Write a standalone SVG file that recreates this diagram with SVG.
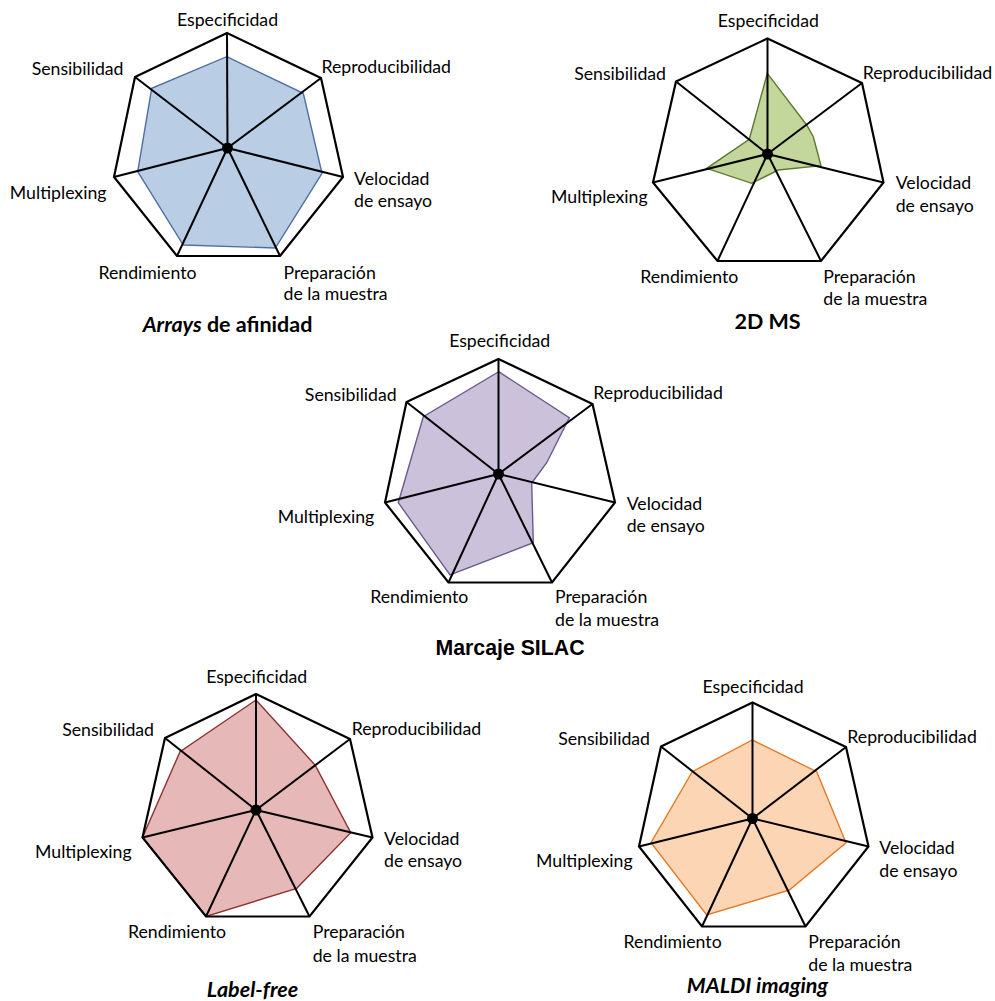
<svg xmlns="http://www.w3.org/2000/svg" width="995" height="1001" viewBox="0 0 995 1001">
<style>
.frame{fill:none;stroke:#000;stroke-width:2.2;stroke-linejoin:miter}
.spoke{stroke:#000;stroke-width:2}
.hub{fill:#000}
.lbl{font-family:Lato,"Open Sans",sans-serif;font-size:17.7px;fill:#000}
.ttl{font-family:Lato,"Open Sans",sans-serif;font-size:21.5px;font-weight:bold;fill:#000}
.ttl2{font-family:"Liberation Sans",Arial,sans-serif;font-size:21.3px;font-weight:bold;fill:#000}
.e{text-anchor:end}
.m{text-anchor:middle}
.d1{fill:#b9cde5;stroke:#4f6ea3;stroke-width:1.4}
.d2{fill:#c3d69b;stroke:#5d7a30;stroke-width:1.4}
.d3{fill:#ccc1da;stroke:#6b5b8e;stroke-width:1.4}
.d4{fill:#e6b9b8;stroke:#8c3331;stroke-width:1.4}
.d5{fill:#fcd5b5;stroke:#e37a24;stroke-width:1.4}
</style>
<g id="chart-arrays">
<polygon class="d1" points="226.7,56.7 303.3,93.3 322,173.3 275.3,248 183.3,245 137.7,171.7 151.7,88.3"/>
<g class="spokes">
<line class="spoke" x1="227.5" y1="148" x2="227" y2="33"/>
<line class="spoke" x1="227.5" y1="148" x2="321" y2="78"/>
<line class="spoke" x1="227.5" y1="148" x2="343" y2="177"/>
<line class="spoke" x1="227.5" y1="148" x2="280" y2="256"/>
<line class="spoke" x1="227.5" y1="148" x2="177" y2="256"/>
<line class="spoke" x1="227.5" y1="148" x2="114" y2="177"/>
<line class="spoke" x1="227.5" y1="148" x2="135" y2="77"/>
</g>
<polygon class="frame" points="227,33 321,78 343,177 280,256 177,256 114,177 135,77"/>
<circle class="hub" cx="227.5" cy="148" r="5.5"/>
<text class="lbl m" x="227.5" y="26">Especificidad</text>
<text class="lbl e" x="123.5" y="75">Sensibilidad</text>
<text class="lbl" x="321.5" y="73">Reproducibilidad</text>
<text class="lbl" x="354" y="185">Velocidad</text>
<text class="lbl" x="354" y="207">de ensayo</text>
<text class="lbl e" x="106.5" y="198.5">Multiplexing</text>
<text class="lbl e" x="196.5" y="278.5">Rendimiento</text>
<text class="lbl" x="283.5" y="278.5">Preparación</text>
<text class="lbl" x="283.5" y="300">de la muestra</text>
<text class="ttl m" x="227.5" y="331.5"><tspan font-style="italic">Arrays</tspan> de afinidad</text>
</g>
<g id="chart-2dms">
<polygon class="d2" points="767.3,73.3 806.7,125 813.3,136.7 821,165.7 778.3,170 751.7,183.3 706.7,168.3 749.3,139.3"/>
<g class="spokes">
<line class="spoke" x1="767.5" y1="154" x2="767.5" y2="38.5"/>
<line class="spoke" x1="767.5" y1="154" x2="862" y2="83"/>
<line class="spoke" x1="767.5" y1="154" x2="883.5" y2="182.5"/>
<line class="spoke" x1="767.5" y1="154" x2="821" y2="261"/>
<line class="spoke" x1="767.5" y1="154" x2="717.5" y2="261"/>
<line class="spoke" x1="767.5" y1="154" x2="653" y2="182.5"/>
<line class="spoke" x1="767.5" y1="154" x2="676" y2="81.5"/>
</g>
<polygon class="frame" points="767.5,38.5 862,83 883.5,182.5 821,261 717.5,261 653,182.5 676,81.5"/>
<circle class="hub" cx="767.5" cy="154" r="5.5"/>
<text class="lbl m" x="768.3" y="27">Especificidad</text>
<text class="lbl e" x="666" y="80">Sensibilidad</text>
<text class="lbl" x="862.7" y="79">Reproducibilidad</text>
<text class="lbl" x="895.7" y="189">Velocidad</text>
<text class="lbl" x="895.7" y="211.5">de ensayo</text>
<text class="lbl e" x="647.7" y="202.5">Multiplexing</text>
<text class="lbl e" x="738.3" y="282.5">Rendimiento</text>
<text class="lbl" x="823.3" y="282.5">Preparación</text>
<text class="lbl" x="823.3" y="305">de la muestra</text>
<text class="ttl m" x="767.5" y="328.5" font-size="19.8">2D MS</text>
</g>
<g id="chart-silac">
<polygon class="d3" points="498.7,371.7 569.3,417.7 546.7,462.7 531.7,483 533.3,542.7 450,575 398.3,502.7 423.3,416.7"/>
<g class="spokes">
<line class="spoke" x1="498.5" y1="474" x2="498.5" y2="359"/>
<line class="spoke" x1="498.5" y1="474" x2="592.5" y2="404"/>
<line class="spoke" x1="498.5" y1="474" x2="615" y2="502.5"/>
<line class="spoke" x1="498.5" y1="474" x2="552" y2="582.5"/>
<line class="spoke" x1="498.5" y1="474" x2="448.5" y2="582.5"/>
<line class="spoke" x1="498.5" y1="474" x2="385" y2="502.5"/>
<line class="spoke" x1="498.5" y1="474" x2="406.5" y2="402"/>
</g>
<polygon class="frame" points="498.5,359 592.5,404 615,502.5 552,582.5 448.5,582.5 385,502.5 406.5,402"/>
<circle class="hub" cx="498.5" cy="474" r="5.5"/>
<text class="lbl m" x="499.7" y="346.5">Especificidad</text>
<text class="lbl e" x="396.7" y="401">Sensibilidad</text>
<text class="lbl" x="593.3" y="399">Reproducibilidad</text>
<text class="lbl" x="626.7" y="510">Velocidad</text>
<text class="lbl" x="626.7" y="532.3">de ensayo</text>
<text class="lbl e" x="374.3" y="523.3">Multiplexing</text>
<text class="lbl e" x="468.3" y="603.3">Rendimiento</text>
<text class="lbl" x="555" y="603.3">Preparación</text>
<text class="lbl" x="555" y="626">de la muestra</text>
<text class="ttl2 m" x="510" y="655">Marcaje SILAC</text>
</g>
<g id="chart-labelfree">
<polygon class="d4" points="256,700 315.3,765.3 350.7,832.7 296.7,888.3 206,916.5 142.5,837.5 180,751.7"/>
<g class="spokes">
<line class="spoke" x1="256" y1="810" x2="256" y2="694"/>
<line class="spoke" x1="256" y1="810" x2="350" y2="739"/>
<line class="spoke" x1="256" y1="810" x2="372.5" y2="837.5"/>
<line class="spoke" x1="256" y1="810" x2="309.5" y2="916.5"/>
<line class="spoke" x1="256" y1="810" x2="206" y2="916.5"/>
<line class="spoke" x1="256" y1="810" x2="142.5" y2="837.5"/>
<line class="spoke" x1="256" y1="810" x2="165" y2="738"/>
</g>
<polygon class="frame" points="256,694 350,739 372.5,837.5 309.5,916.5 206,916.5 142.5,837.5 165,738"/>
<circle class="hub" cx="256" cy="810" r="5.5"/>
<text class="lbl m" x="256.7" y="682.7">Especificidad</text>
<text class="lbl e" x="154" y="736">Sensibilidad</text>
<text class="lbl" x="351.7" y="735">Reproducibilidad</text>
<text class="lbl" x="384" y="845">Velocidad</text>
<text class="lbl" x="384" y="867.3">de ensayo</text>
<text class="lbl e" x="131.7" y="858.3">Multiplexing</text>
<text class="lbl e" x="226" y="938.3">Rendimiento</text>
<text class="lbl" x="312.7" y="938.3">Preparación</text>
<text class="lbl" x="312.7" y="961.7">de la muestra</text>
<text class="ttl m" x="252.5" y="996.5" font-style="italic">Label-free</text>
</g>
<g id="chart-maldi">
<polygon class="d5" points="752.3,740 816.7,771.7 846,842.7 789.3,890 706.7,915 651,842.7 692.3,771.7"/>
<g class="spokes">
<line class="spoke" x1="752.5" y1="818.5" x2="752.5" y2="702.5"/>
<line class="spoke" x1="752.5" y1="818.5" x2="846" y2="747"/>
<line class="spoke" x1="752.5" y1="818.5" x2="868.5" y2="846.5"/>
<line class="spoke" x1="752.5" y1="818.5" x2="805.5" y2="926.5"/>
<line class="spoke" x1="752.5" y1="818.5" x2="702" y2="926.5"/>
<line class="spoke" x1="752.5" y1="818.5" x2="639" y2="846.5"/>
<line class="spoke" x1="752.5" y1="818.5" x2="661" y2="746.5"/>
</g>
<polygon class="frame" points="752.5,702.5 846,747 868.5,846.5 805.5,926.5 702,926.5 639,846.5 661,746.5"/>
<circle class="hub" cx="752.5" cy="818.5" r="5.5"/>
<text class="lbl m" x="753" y="693.3">Especificidad</text>
<text class="lbl e" x="650" y="745">Sensibilidad</text>
<text class="lbl" x="847.3" y="743.3">Reproducibilidad</text>
<text class="lbl" x="879.3" y="854.3">Velocidad</text>
<text class="lbl" x="879.3" y="876.7">de ensayo</text>
<text class="lbl e" x="632.7" y="867.3">Multiplexing</text>
<text class="lbl e" x="721.7" y="948.3">Rendimiento</text>
<text class="lbl" x="808.3" y="948.3">Preparación</text>
<text class="lbl" x="808.3" y="970.7">de la muestra</text>
<text class="ttl m" x="757.5" y="992.5" font-style="italic">MALDI imaging</text>
</g>
</svg>
